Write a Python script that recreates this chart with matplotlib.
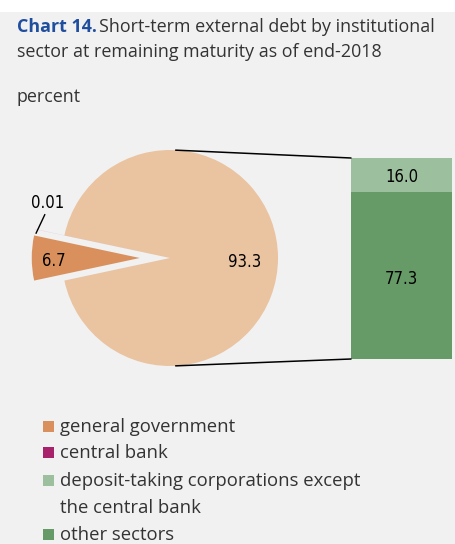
import matplotlib.pyplot as plt
from matplotlib.patches import Rectangle, ConnectionPatch
import numpy as np

######### DATA ##############
pie_labels = ['other', 'central bank', 'general government']
pie_values = [93.3, 0.01, 6.7]
bar_labels = ['other sectors', 'deposit-taking corporations except\nthe central bank']
bar_values = [77.3, 16.0]
legend_labels = ['general government', 'central bank',
                 'deposit-taking corporations except\nthe central bank', 'other sectors']

######### STYLE ##############
c_rest = '#eac3a0'
c_gov = '#d9905c'
c_cb = '#a7226b'
c_dep = '#9cc09d'
c_oth = '#669a66'
bg = '#f1f1f1'
txt = '#333333'
label_font = dict(family='DejaVu Sans', stretch='condensed', fontsize=12)
body_font = ['Open Sans', 'DejaVu Sans']

W, H = 456, 544
fig = plt.figure(figsize=(W / 100, H / 100), dpi=100)
fig.patch.set_facecolor('white')
fig.add_artist(Rectangle((0, 0), 1, (H - 12) / H, transform=fig.transFigure,
                         facecolor=bg, edgecolor='none', zorder=-10))

def fx(px):
    return px / W

def fy(py):
    return 1 - py / H

## TITLE
t1 = fig.text(fx(17), fy(27), 'Chart 14.', color='#1f4e9e', fontsize=12.9,
              fontweight='bold', family=body_font, va='center')
fig.canvas.draw()
bb = t1.get_window_extent()
fig.text(bb.x1 / W + 0.004, fy(27), 'Short-term external debt by institutional',
         color=txt, fontsize=12.9, family=body_font, va='center')
fig.text(fx(17), fy(52), 'sector at remaining maturity as of end-2018',
         color=txt, fontsize=12.9, family=body_font, va='center')
fig.text(fx(17), fy(97), 'percent', color=txt, fontsize=12.9,
         family=body_font, va='center')

## PIE (1 unit = 108 px, centre at (170, 258))
R = 108
cx, cy = 170, 258
x0, x1, y0, y1 = 10, 300, 140, 376
ax_pie = fig.add_axes([fx(x0), fy(y1), (x1 - x0) / W, (y1 - y0) / H])
start = -pie_values[0] * 3.6 / 2
wedges, _ = ax_pie.pie(pie_values, colors=[c_rest, c_cb, c_gov],
                       startangle=start, counterclock=True,
                       explode=[0, 0.28, 0.28], normalize=True,
                       wedgeprops=dict(linewidth=0))
ax_pie.set_xlim((x0 - cx) / R, (x1 - cx) / R)
ax_pie.set_ylim((cy - y1) / R, (cy - y0) / R)
ax_pie.set_aspect('auto')
ax_pie.axis('off')

ax_pie.text(0.69, -0.04, f'{pie_values[0]:.1f}', ha='center', va='center',
            color='black', **label_font)
ax_pie.text(-1.08, -0.03, f'{pie_values[2]:.1f}', ha='center', va='center',
            color='black', **label_font)
# leader line for the tiny central bank slice
ang = np.deg2rad(start + pie_values[0] * 3.6 + 0.5)
ex = -0.28
px0, py0 = ex + 1.0 * np.cos(ang), 1.0 * np.sin(ang)
ax_pie.plot([px0 + 0.02, px0 + 0.1], [py0 + 0.03, py0 + 0.2], color='black', lw=1)
ax_pie.text(px0 + 0.13, py0 + 0.31, f'{pie_values[1]:.2f}', ha='center', va='center',
            color='black', **label_font)

## BAR (breakdown of the 93.3 slice)
bx0, bx1, by0, by1 = 351, 452, 158, 359
ax_bar = fig.add_axes([fx(bx0), fy(by1), (bx1 - bx0) / W, (by1 - by0) / H])
bottom = 0
for val, col in zip(bar_values, [c_oth, c_dep]):
    ax_bar.bar(0, val, width=1, bottom=bottom, color=col, linewidth=0)
    ax_bar.text(0, bottom + val / 2 + (-1.5 if val > 50 else -1.0), f'{val:.1f}',
                ha='center', va='center', **label_font)
    bottom += val
ax_bar.set_xlim(-0.5, 0.5)
ax_bar.set_ylim(0, sum(bar_values))
ax_bar.axis('off')

## CONNECTING LINES
for a, yb in [(87, sum(bar_values)), (-87, 0)]:
    r = np.deg2rad(a)
    con = ConnectionPatch(xyA=(np.cos(r), np.sin(r)), coordsA=ax_pie.transData,
                          xyB=(-0.5, yb), coordsB=ax_bar.transData,
                          color='black', lw=1.1)
    fig.add_artist(con)

## LEGEND
leg_y = [427, 453, 481, 535]
for lab, col, yy in zip(legend_labels, [c_gov, c_cb, c_dep, c_oth], leg_y):
    fig.add_artist(Rectangle((fx(43), fy(yy + 5)), 11 / W, 11 / H,
                             transform=fig.transFigure, facecolor=col,
                             edgecolor='none'))
    for k, line in enumerate(lab.split('\n')):
        fig.text(fx(60), fy(yy + 27 * k), line, color=txt, fontsize=13.3,
                 family=body_font, va='center')

plt.savefig('out.png', dpi=100, facecolor=fig.get_facecolor())
